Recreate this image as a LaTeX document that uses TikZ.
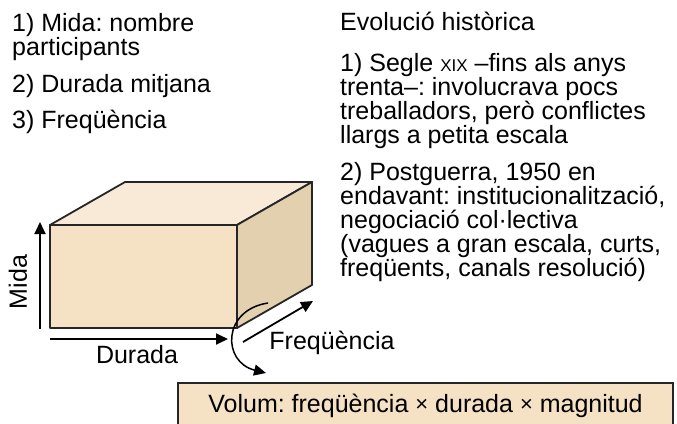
\documentclass[tikz,border=0pt]{standalone}
\usepackage{fontspec}
\setmainfont{Liberation Sans}
\usetikzlibrary{arrows.meta,positioning}
\definecolor{frontface}{RGB}{245,225,195}
\definecolor{topface}{RGB}{248,234,214}
\definecolor{sideface}{RGB}{227,208,174}
\frenchspacing
\newcommand{\pertimes}{\raisebox{0.3pt}{\fontsize{22}{24}\selectfont ×}}

\begin{document}
\begin{tikzpicture}[x=1pt,y=-1pt,
    txt/.style={inner sep=0pt, align=left, anchor=base west, font=\fontsize{25}{24}\selectfont},
    face/.style={draw=black!85, line width=1.8pt, line join=round},
    dim/.style={line width=1.8pt, -{Triangle[length=12pt,width=11pt]}}]
    \clip (0,0) rectangle (677,423);
    \useasboundingbox (0,0) rectangle (677,423);

    % list of dimensions (base = last line)
    \node[txt] (midalist) at (12,55) {1) Mida: nombre\\participants};
    \node[txt] (duradalist) at (12,92) {2) Durada mitjana};
    \node[txt] (freqlist) at (12,128) {3) Freqüència};

    % history
    \node[txt] (evolucio) at (340,30) {Evolució històrica};
    \node[txt] (segle) at (340,143) {1) Segle {\fontsize{17}{24}\selectfont XIX} –fins als anys\\trenta–: involucrava pocs\\treballadors, però conflictes\\llargs a petita escala};
    \node[txt] (postguerra) at (340,276) {2) Postguerra, 1950 en\\endavant: institucionalització,\\negociació col·lectiva\\(vagues a gran escala, curts,\\freqüents, canals resolució)};

    % the block
    \coordinate (fbl) at (50,328);
    \coordinate (fbr) at (237,328);
    \coordinate (ftr) at (237,225);
    \coordinate (ftl) at (50,225);
    \coordinate (btl) at (125,182);
    \coordinate (btr) at (312,182);
    \coordinate (bbr) at (312,285);
    \draw[face, fill=topface] (ftl) -- (btl) -- (btr) -- (ftr) -- cycle;
    \draw[face, fill=sideface] (ftr) -- (btr) -- (bbr) -- (fbr) -- cycle;
    \draw[face, fill=frontface] (fbl) rectangle (ftr);

    % axes
    \coordinate (midabot) at (40,329);
    \coordinate (midatop) at (40,222);
    \coordinate (durstart) at (50,339);
    \coordinate (durend) at (228,339);
    \coordinate (freqstart) at (243,342);
    \coordinate (freqend) at (313,301);
    \draw[dim] (midabot) -- (midatop);
    \draw[dim] (durstart) -- (durend);
    \draw[dim] (freqstart) -- (freqend);
    \node[txt, anchor=center, rotate=90] (midalabel) at (18,282) {Mida};
    \node[txt, anchor=center] (duradalabel) at (137,355) {Durada};
    \node[txt, anchor=center] (freqlabel) at (332,343) {Freqüència};

    % volume
    \node[draw=black!85, line width=1.5pt, fill=frontface, minimum width=495pt, minimum height=46pt,
          text height=17pt, text depth=5pt, font=\fontsize{25}{24}\selectfont] (volum) at (425.5,406)
          {Volum: freqüència \pertimes{} durada \pertimes{} magnitud};
    \coordinate (turnstart) at (268,303);
    \coordinate (turnend) at (266,373);
    \draw[line width=1.5pt, -{Triangle[length=12pt,width=11pt]}] (turnstart) .. controls (222,310) and (222,362) .. (turnend);
\end{tikzpicture}
\end{document}
